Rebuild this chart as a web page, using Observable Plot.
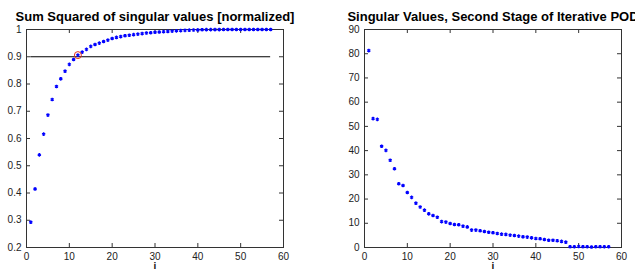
<!DOCTYPE html>
<html>
<head>
<meta charset="utf-8">
<script src="https://cdn.jsdelivr.net/npm/d3@7"></script>
<script src="https://cdn.jsdelivr.net/npm/@observablehq/plot@0.6"></script>
<style>
  html, body { margin: 0; padding: 0; background: #fff; }
  #wrap { position: relative; width: 635px; height: 269px; overflow: hidden; background: #fff; }
  #left, #right { position: absolute; top: 0; }
  #left { left: 0; }
  #right { left: 317px; }
  svg { font-family: "Liberation Sans", Arial, sans-serif; }
</style>
</head>
<body>
<div id="wrap"><div id="left"></div><div id="right"></div></div>
<script>
// ---- Data ----
const leftTitle = "Sum Squared of singular values [normalized]";
const rightTitle = "Singular Values, Second Stage of Iterative POD";
const xLabel = "i";

const index = d3.range(1, 58); // i = 1..57

const cumulativeEnergy = [
  0.293, 0.415, 0.540, 0.616, 0.686, 0.743, 0.791, 0.819, 0.847, 0.872,
  0.890, 0.906, 0.917, 0.927, 0.938, 0.945, 0.950, 0.956, 0.961, 0.967,
  0.971, 0.974, 0.977, 0.979, 0.981, 0.983, 0.985, 0.987, 0.988, 0.990,
  0.991, 0.992, 0.993, 0.994, 0.995, 0.996, 0.997, 0.9975, 0.998, 0.9985,
  0.999, 0.9993, 0.9995, 0.9997, 0.9998, 0.9999, 1.0, 1.0, 1.0, 1.0,
  1.0, 1.0, 1.0, 1.0, 1.0, 1.0, 1.0
];

const singularValues = [
  81.3, 53.2, 52.9, 41.8, 40.1, 36.0, 32.5, 26.3, 25.6, 22.7,
  20.7, 18.3, 16.7, 15.4, 13.9, 13.2, 12.5, 10.7, 10.5, 9.9,
  9.5, 9.4, 8.8, 8.5, 7.2, 7.2, 6.9, 6.6, 6.3, 6.1,
  5.8, 5.5, 5.4, 5.1, 4.96, 4.7, 4.4, 4.3, 4.0, 3.7,
  3.6, 3.3, 3.0, 3.0, 2.8, 2.5, 2.2, 0.3, 0.3, 0.4,
  0.3, 0.3, 0.2, 0.3, 0.3, 0.3, 0.3
];

const threshold = [0.9];
const highlightIdx = [12];

const xTicks = [0, 10, 20, 30, 40, 50, 60];
const leftYTicks = [0.2, 0.3, 0.4, 0.5, 0.6, 0.7, 0.8, 0.9, 1];
const leftYLabels = ["0.2", "0.3", "0.4", "0.5", "0.6", "0.7", "0.8", "0.9", "1"];
const rightYTicks = [0, 10, 20, 30, 40, 50, 60, 70, 80, 90];

const leftData = index.map((i, k) => ({i, v: cumulativeEnergy[k]}));
const rightData = index.map((i, k) => ({i, v: singularValues[k]}));

// ---- Styles ----
const markerColor = "#0000ff";
const frameColor = "#333";
const textColor = "#222";
const H = 269, MT = 29, MB = 22;
const innerH = H - MT - MB;
const tickLen = 4;

function boxTicks(yTicks, innerW, yTickFormat) {
  return [
    Plot.frame({stroke: frameColor, strokeWidth: 1}),
    Plot.tickX(xTicks, {x: d => d, stroke: frameColor, insetTop: innerH - tickLen}),
    Plot.tickX(xTicks, {x: d => d, stroke: frameColor, insetBottom: innerH - tickLen}),
    Plot.tickY(yTicks, {y: d => d, stroke: frameColor, insetRight: innerW - tickLen}),
    Plot.tickY(yTicks, {y: d => d, stroke: frameColor, insetLeft: innerW - tickLen}),
    Plot.axisX({ticks: xTicks, tickSize: 0, tickPadding: 5, fontSize: 10, fill: textColor, label: null}),
    Plot.axisY({ticks: yTicks, tickSize: 0, tickPadding: 5, fontSize: 10, fill: textColor, label: null, tickFormat: yTickFormat}),
  ];
}

function titleMarks(title) {
  return [
    Plot.text([title], {frameAnchor: "top", dy: -13, text: d => d, fontSize: 13, fontWeight: "bold", fill: "#000", lineAnchor: "middle"}),
    Plot.text([xLabel], {frameAnchor: "bottom", dy: 19, text: d => d, fontSize: 10, fontWeight: "bold", fill: "#111", lineAnchor: "middle"})
  ];
}

const dotStyle = {symbol: "asterisk", r: 1.7, stroke: markerColor, strokeWidth: 1.3};

// ---- Left chart ----
const LW = 317, LML = 26, LMR = 34;
const left = Plot.plot({
  width: LW, height: H,
  marginTop: MT, marginBottom: MB, marginLeft: LML, marginRight: LMR,
  style: {background: "transparent", overflow: "visible"},
  x: {domain: [0, 60]},
  y: {domain: [0.2, 1]},
  marks: [
    ...boxTicks(leftYTicks, LW - LML - LMR, d => leftYLabels[leftYTicks.indexOf(d)]),
    Plot.ruleY(threshold, {y: d => d, x1: index[0], x2: index[index.length - 1], stroke: "#000", strokeWidth: 1}),
    Plot.dot(leftData, {x: "i", y: "v", ...dotStyle}),
    Plot.dot(leftData.filter(d => highlightIdx.includes(d.i)), {x: "i", y: "v", r: 3.5, stroke: "#e03020", strokeWidth: 1, fill: "none"}),
    ...titleMarks(leftTitle)
  ]
});
document.getElementById("left").appendChild(left);

// ---- Right chart ----
const RW = 318, RML = 47, RMR = 14;
const right = Plot.plot({
  width: RW, height: H,
  marginTop: MT, marginBottom: MB, marginLeft: RML, marginRight: RMR,
  style: {background: "transparent", overflow: "visible"},
  x: {domain: [0, 60]},
  y: {domain: [0, 90]},
  marks: [
    ...boxTicks(rightYTicks, RW - RML - RMR),
    Plot.dot(rightData, {x: "i", y: "v", ...dotStyle}),
    ...titleMarks(rightTitle)
  ]
});
document.getElementById("right").appendChild(right);
</script>
</body>
</html>
